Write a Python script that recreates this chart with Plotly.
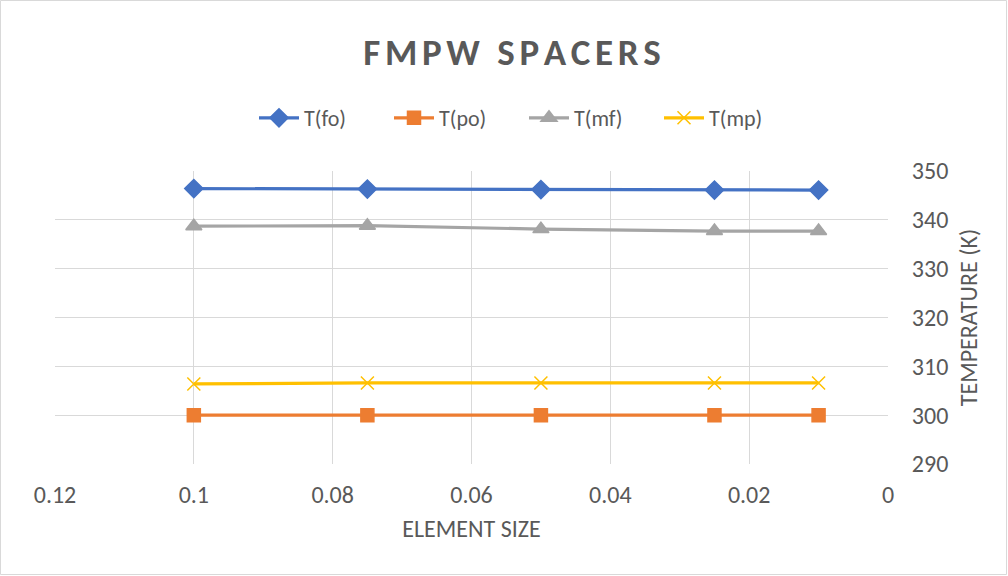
import plotly.graph_objects as go

element_size = [0.1, 0.075, 0.05, 0.025, 0.01]
t_fo = [346.4, 346.3, 346.2, 346.1, 346.1]
t_po = [300.0, 300.0, 300.0, 300.0, 300.0]
t_mf = [338.7, 338.8, 338.1, 337.7, 337.7]
t_mp = [306.4, 306.6, 306.6, 306.6, 306.6]

x_ticks = [0.12, 0.1, 0.08, 0.06, 0.04, 0.02, 0]
x_tick_labels = ["0.12", "0.1", "0.08", "0.06", "0.04", "0.02", "0"]

W, H = 1008, 576
ml, mr, mt, mb = 55, 120, 171, 112
font_family = "Calibri, Carlito, 'Open Sans', sans-serif"
gray = "#595959"

fig = go.Figure()
series = [
    ("T(fo)", t_fo, "#4472C4", "diamond", 14),
    ("T(po)", t_po, "#ED7D31", "square", 13),
    ("T(mf)", t_mf, "#A5A5A5", "triangle-up", 14),
    ("T(mp)", t_mp, "#FFC000", "x-thin-open", 13),
]
for name, vals, color, sym, size in series:
    fig.add_trace(go.Scatter(
        x=element_size, y=vals, name=name, mode="lines+markers",
        line=dict(color=color, width=3.2),
        marker=dict(symbol=sym, size=size, color=color,
                    line=dict(color=color, width=1.5)),
    ))

pw = W - ml - mr
ph = H - mt - mb
fig.add_shape(type="rect", xref="paper", yref="paper",
              x0=-ml / pw + 0.5 / pw, x1=1 + (mr - 1.5) / pw,
              y0=-mb / ph + 1.5 / ph, y1=1 + (mt - 0.5) / ph,
              line=dict(color="#D9D9D9", width=1), layer="below")

sp = "\u200a"
title_text = sp.join(list("FMPW")) + sp + " " + sp + sp.join(list("SPACERS"))

fig.update_layout(
    width=W, height=H,
    margin=dict(l=ml, r=mr, t=mt, b=mb),
    paper_bgcolor="white", plot_bgcolor="white",
    font=dict(family=font_family, color=gray, size=22),
    title=dict(text="<b>" + title_text + "</b>", xref="container",
               x=512 / W, xanchor="center",
               y=1 - 52 / H, yanchor="middle",
               font=dict(size=37, color=gray, family=font_family)),
    legend=dict(orientation="h", x=(524 - ml) / pw, xanchor="center",
                y=1 + (mt - 118) / ph, yanchor="middle",
                font=dict(size=22, color=gray), itemwidth=40,
                entrywidth=80, entrywidthmode="pixels",
                bgcolor="rgba(0,0,0,0)"),
    xaxis=dict(range=[0.12, 0], tickvals=x_ticks, ticktext=x_tick_labels,
               showgrid=True, gridcolor="#D9D9D9", gridwidth=1,
               zeroline=False, showline=False,
               ticks="outside", ticklen=9, tickcolor="rgba(0,0,0,0)",
               tickfont=dict(size=24, color=gray),
               title=dict(text="ELEMENT SIZE", font=dict(size=24, color=gray),
                          standoff=12)),
    yaxis=dict(range=[290, 350], dtick=10, side="right",
               showgrid=True, gridcolor="#D9D9D9", gridwidth=1,
               zeroline=False, showline=False,
               ticks="outside", ticklen=18, tickcolor="rgba(0,0,0,0)",
               tickfont=dict(size=24, color=gray),
               title=dict(text="TEMPERATURE (K)", font=dict(size=24, color=gray),
                          standoff=12)),
    showlegend=True,
)

fig.write_html("out.html")
